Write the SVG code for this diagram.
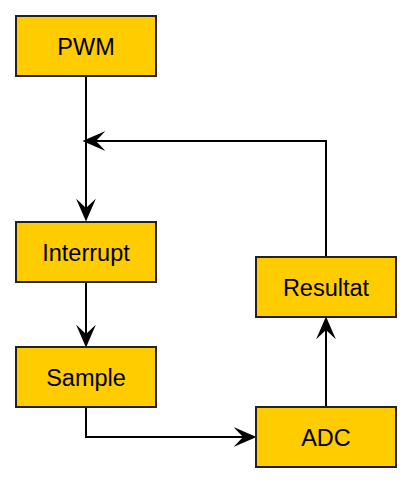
<svg xmlns="http://www.w3.org/2000/svg" width="412" height="482" viewBox="0 0 412 482">
<defs>
<style>
.box{fill:#ffcc00;stroke:#222;stroke-width:2}
.lbl{font-family:"Liberation Sans",Arial,sans-serif;font-size:23.5px;fill:#000;text-anchor:middle;dominant-baseline:central}
.edge{fill:none;stroke:#000;stroke-width:2}
</style>
<marker id="arr" markerUnits="userSpaceOnUse" markerWidth="24" markerHeight="22" viewBox="0 -10 23 20" refX="9" refY="0" orient="auto">
<path d="M22,0 L0,-9.5 L9,0 L0,9.5 Z" fill="#000"/>
</marker>
</defs>
<rect width="412" height="482" fill="#fff"/>
<g id="connectors">
<path class="edge" d="M86,76 L86,208" marker-end="url(#arr)"/>
<path class="edge" d="M326,257 L326,141 L96,141" marker-end="url(#arr)"/>
<path class="edge" d="M86,282 L86,334" marker-end="url(#arr)"/>
<path class="edge" d="M86,407 L86,437 L243,437" marker-end="url(#arr)"/>
<path class="edge" d="M326,407 L326,330" marker-end="url(#arr)"/>
</g>
<g id="pwm"><rect class="box" x="16" y="16" width="140" height="60"/><text class="lbl" x="86" y="47">PWM</text></g>
<g id="interrupt"><rect class="box" x="16" y="222" width="140" height="60"/><text class="lbl" x="86" y="253">Interrupt</text></g>
<g id="sample"><rect class="box" x="16" y="347" width="140" height="60"/><text class="lbl" x="86" y="378">Sample</text></g>
<g id="resultat"><rect class="box" x="256" y="257" width="140" height="60"/><text class="lbl" x="326" y="288">Resultat</text></g>
<g id="adc"><rect class="box" x="256" y="407" width="140" height="60"/><text class="lbl" x="326" y="438">ADC</text></g>
</svg>
